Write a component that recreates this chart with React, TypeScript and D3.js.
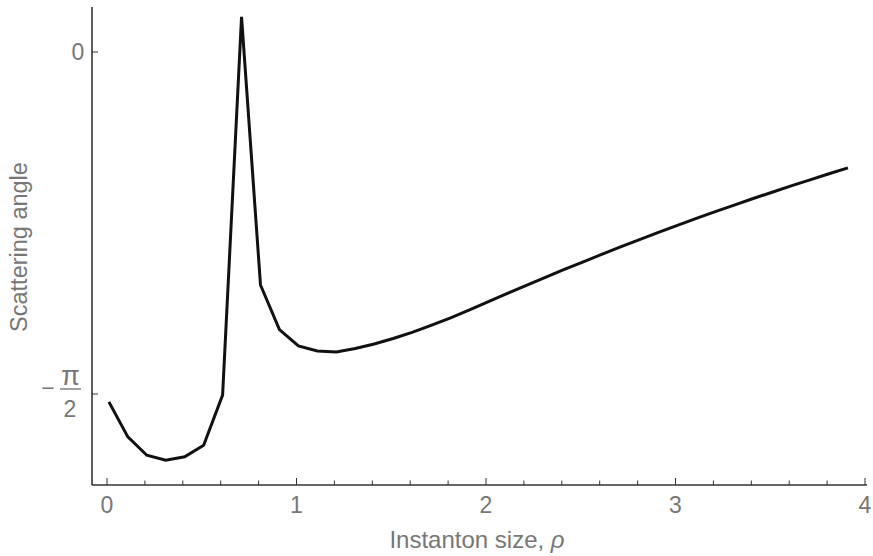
import React from "react";
import * as d3 from "d3";

// Instanton size ρ sample points
const rho: number[] = [
  0.01, 0.11, 0.21, 0.31, 0.41, 0.51, 0.61, 0.71, 0.81, 0.91,
  1.01, 1.11, 1.21, 1.31, 1.41, 1.51, 1.61, 1.71, 1.81, 1.91,
  2.01, 2.11, 2.21, 2.31, 2.41, 2.51, 2.61, 2.71, 2.81, 2.91,
  3.01, 3.11, 3.21, 3.31, 3.41, 3.51, 3.61, 3.71, 3.81, 3.91,
];

// Scattering angle (radians)
const angle: number[] = [
  -1.607, -1.768, -1.852, -1.875, -1.859, -1.806, -1.576, 0.161, -1.07, -1.275,
  -1.35, -1.373, -1.378, -1.362, -1.341, -1.316, -1.288, -1.256, -1.222, -1.186,
  -1.148, -1.11, -1.073, -1.036, -1.0, -0.965, -0.93, -0.895, -0.862, -0.828,
  -0.796, -0.764, -0.733, -0.703, -0.673, -0.644, -0.615, -0.587, -0.559, -0.532,
];

const xTickLabels: string[] = ["0", "1", "2", "3", "4"];
const yTickValues: number[] = [0, -Math.PI / 2];
const xTitle = "Instanton size, ";
const xTitleSymbol = "ρ";
const yTitle = "Scattering angle";

const W = 873;
const H = 556;

export default function App() {
  const x = d3.scaleLinear().domain([0, 4]).range([107, 865]);
  const y = d3.scaleLinear().domain([-Math.PI / 2, 0]).range([394, 52]);

  const axisLeft = 92;
  const axisRight = 867;
  const axisTop = 7;
  const axisBottom = 485;

  const data = rho.map((r, i) => [r, angle[i]] as [number, number]);
  const line = d3
    .line<[number, number]>()
    .x((d) => x(d[0]))
    .y((d) => y(d[1]));

  const xticks = x.ticks(20);
  const axisColor = "#333";
  const textColor = "#777";
  const font = "'Liberation Sans', Arial, sans-serif";
  const yPi = y(-Math.PI / 2);

  return (
    <svg
      width={W}
      height={H}
      style={{ position: "absolute", left: 0, top: 0, background: "#fff" }}
      fontFamily={font}
    >
      <rect x={0} y={0} width={W} height={H} fill="#fff" />
      {/* axes */}
      <line x1={axisLeft} x2={axisLeft} y1={axisTop} y2={axisBottom} stroke={axisColor} strokeWidth={1.6} />
      <line x1={axisLeft} x2={axisRight} y1={axisBottom} y2={axisBottom} stroke={axisColor} strokeWidth={1.6} />

      {/* x ticks */}
      {xticks.map((t, i) => {
        const major = Math.abs(t - Math.round(t)) < 1e-9;
        return (
          <line
            key={"xt" + i}
            x1={x(t)}
            x2={x(t)}
            y1={axisBottom}
            y2={axisBottom - (major ? 7 : 4.5)}
            stroke={axisColor}
            strokeWidth={1}
          />
        );
      })}
      {xTickLabels.map((lab, i) => (
        <text
          key={"xl" + i}
          x={x(i)}
          y={513}
          textAnchor="middle"
          fontSize={23}
          fill={textColor}
        >
          {lab}
        </text>
      ))}

      {/* y ticks */}
      {yTickValues.map((t, i) => (
        <line
          key={"yt" + i}
          x1={axisLeft}
          x2={axisLeft + 6}
          y1={y(t)}
          y2={y(t)}
          stroke={axisColor}
          strokeWidth={1}
        />
      ))}
      <text x={78} y={y(0) + 8} textAnchor="middle" fontSize={23} fill={textColor}>
        0
      </text>
      {/* -π/2 label */}
      <g fill={textColor}>
        <text x={48} y={yPi + 2} textAnchor="middle" fontSize={23}>
          −
        </text>
        <text x={70.5} y={yPi - 9} textAnchor="middle" fontSize={27}>
          π
        </text>
        <line x1={60} x2={81} y1={yPi - 5} y2={yPi - 5} stroke={textColor} strokeWidth={1.4} />
        <text x={70} y={yPi + 23} textAnchor="middle" fontSize={23}>
          2
        </text>
      </g>

      {/* titles */}
      <text x={477} y={548} textAnchor="middle" fontSize={24} fill={textColor}>
        {xTitle}
        <tspan fontStyle="italic">{xTitleSymbol}</tspan>
      </text>
      <text
        transform={`translate(27, 247) rotate(-90)`}
        textAnchor="middle"
        fontSize={23.5}
        fill={textColor}
      >
        {yTitle}
      </text>

      {/* curve */}
      <path
        d={line(data) ?? ""}
        fill="none"
        stroke="#111"
        strokeWidth={3}
        strokeLinejoin="miter"
        strokeMiterlimit={10}
      />
    </svg>
  );
}
